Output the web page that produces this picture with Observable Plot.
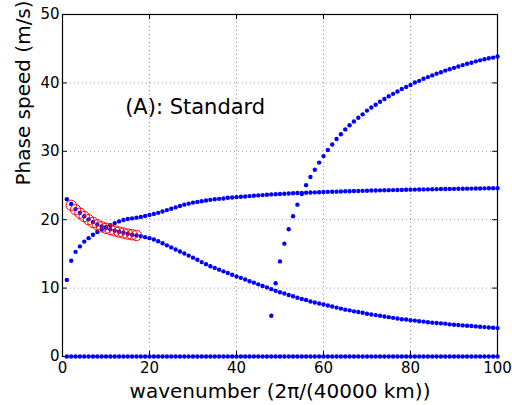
<!DOCTYPE html>
<html><head><meta charset="utf-8">
<script src="https://cdn.jsdelivr.net/npm/d3@7"></script>
<script src="https://cdn.jsdelivr.net/npm/@observablehq/plot@0.6"></script>
<style>body{margin:0;background:#fff} svg{display:block}</style>
</head><body><div id="chart"></div>
<script>
// Phase speed (m/s) per wavenumber k = 1..100
const zeroMode = new Array(100).fill(0);
const risingMode = [11.2,14.0,15.3,16.1,16.8,17.3,17.8,18.2,18.6,18.9,19.2,19.5,19.75,19.95,20.1,20.2,20.3,20.4,20.55,20.7,
 20.85,21.0,21.2,21.4,21.6,21.8,22.0,22.2,22.35,22.5,22.6,22.7,22.8,22.9,23.0,23.05,23.1,23.2,23.25,23.3,
 23.35,23.4,23.45,23.5,23.55,23.6,23.65,23.7,23.72,23.75,23.8,23.83,23.86,23.9,23.92,23.95,23.97,24.0,24.02,24.05,
 24.07,24.09,24.1,24.12,24.15,24.17,24.19,24.2,24.22,24.24,24.26,24.27,24.29,24.3,24.32,24.33,24.35,24.36,24.38,24.39,
 24.4,24.42,24.43,24.44,24.45,24.47,24.48,24.49,24.5,24.51,24.52,24.53,24.54,24.55,24.56,24.57,24.58,24.59,24.6,24.6];
const fallingMode = [23.0,22.3,21.55,21.0,20.5,20.05,19.65,19.3,19.0,18.8,18.6,18.4,18.25,18.1,17.95,17.8,17.7,17.6,17.45,17.3,
 17.1,16.85,16.55,16.25,15.95,15.65,15.35,15.05,14.75,14.45,14.15,13.8,13.5,13.2,12.95,12.7,12.45,12.2,11.95,11.7,
 11.5,11.25,11.0,10.8,10.55,10.3,10.1,9.85,9.6,9.4,9.2,9.0,8.8,8.6,8.4,8.25,8.05,7.9,7.75,7.6,
 7.45,7.3,7.15,7.0,6.85,6.75,6.6,6.5,6.4,6.25,6.15,6.05,5.95,5.85,5.75,5.65,5.55,5.45,5.4,5.3,
 5.25,5.15,5.1,5.0,4.95,4.9,4.85,4.8,4.7,4.65,4.6,4.55,4.5,4.45,4.4,4.35,4.3,4.25,4.2,4.15];
// steep mode exists from k = 48 to 100
const steepStartK = 48;
const steepMode = [5.95,10.7,13.9,16.5,18.6,20.5,22.2,23.75,25.05,26.25,27.3,28.35,29.3,30.2,31.0,31.8,32.5,33.2,33.8,34.35,
 34.9,35.4,35.95,36.4,36.8,37.25,37.65,38.05,38.4,38.75,39.1,39.4,39.7,40.05,40.3,40.6,40.85,41.1,41.35,41.55,
 41.8,42.0,42.2,42.4,42.6,42.8,42.95,43.15,43.3,43.45,43.6,43.7,43.85];
// red circles, k = 2..17
const circleStartK = 2;
const circleValues = [22.1,21.45,20.95,20.45,20.0,19.6,19.25,18.95,18.75,18.55,18.35,18.2,18.05,17.9,17.8,17.7];

const xTicks = [0,20,40,60,80,100];
const yTicks = [0,10,20,30,40,50];
const xGrid = [20,40,60,80];
const yGrid = [10,20,30,40];
const xLabel = "wavenumber (2π/(40000 km))";
const yLabel = "Phase speed (m/s)";
const annotation = [{k: 14.4, v: 36.5, label: "(A): Standard"}];

const toPts = (arr, k0) => arr.map((v, i) => ({k: k0 + i, v}));
const dots = [
  ...toPts(zeroMode, 1),
  ...toPts(risingMode, 1),
  ...toPts(fallingMode, 1),
  ...toPts(steepMode, steepStartK)
];
const circles = toPts(circleValues, circleStartK);

const grid = {stroke: "#9a9a9a", strokeWidth: 1, strokeDasharray: "1,3"};

const chart = Plot.plot({
  width: 512, height: 405,
  marginLeft: 62, marginRight: 15, marginTop: 14, marginBottom: 49,
  x: {domain: [0, 100]},
  y: {domain: [0, 50]},
  style: {fontFamily: "'DejaVu Sans', sans-serif", background: "white", color: "black"},
  marks: [
    Plot.ruleX(xGrid, grid),
    Plot.ruleY(yGrid, grid),
    Plot.ruleX(xTicks, {y1: 0, y2: 0.75, stroke: "black"}),
    Plot.ruleX(xTicks, {y1: 50, y2: 49.25, stroke: "black"}),
    Plot.ruleY(yTicks, {x1: 0, x2: 1.1, stroke: "black"}),
    Plot.ruleY(yTicks, {x1: 100, x2: 98.9, stroke: "black"}),
    Plot.frame({stroke: "black", strokeWidth: 1.2}),
    Plot.axisX({ticks: xTicks, tickSize: 0, tickPadding: 6, fontSize: 15, label: null, tickFormat: d => String(d)}),
    Plot.axisY({ticks: yTicks, tickSize: 0, tickPadding: 3, fontSize: 15, label: null, tickFormat: d => String(d)}),
    Plot.dot(dots, {x: "k", y: "v", r: 2.2, fill: "#0000ff", stroke: "none"}),
    Plot.dot(circles, {x: "k", y: "v", r: 5.2, stroke: "#ff0000", fill: "none", strokeWidth: 1}),
    Plot.text(annotation, {x: "k", y: "v", text: "label", textAnchor: "start", fontSize: 21, fill: "black"}),
    Plot.text([xLabel], {text: d => d, frameAnchor: "bottom", dy: 41, fontSize: 20, fill: "black"}),
    Plot.text([yLabel], {text: d => d, frameAnchor: "left", rotate: -90, dx: -39, fontSize: 20, fill: "black"})
  ]
});
document.getElementById("chart").appendChild(chart);
</script>
</body></html>
